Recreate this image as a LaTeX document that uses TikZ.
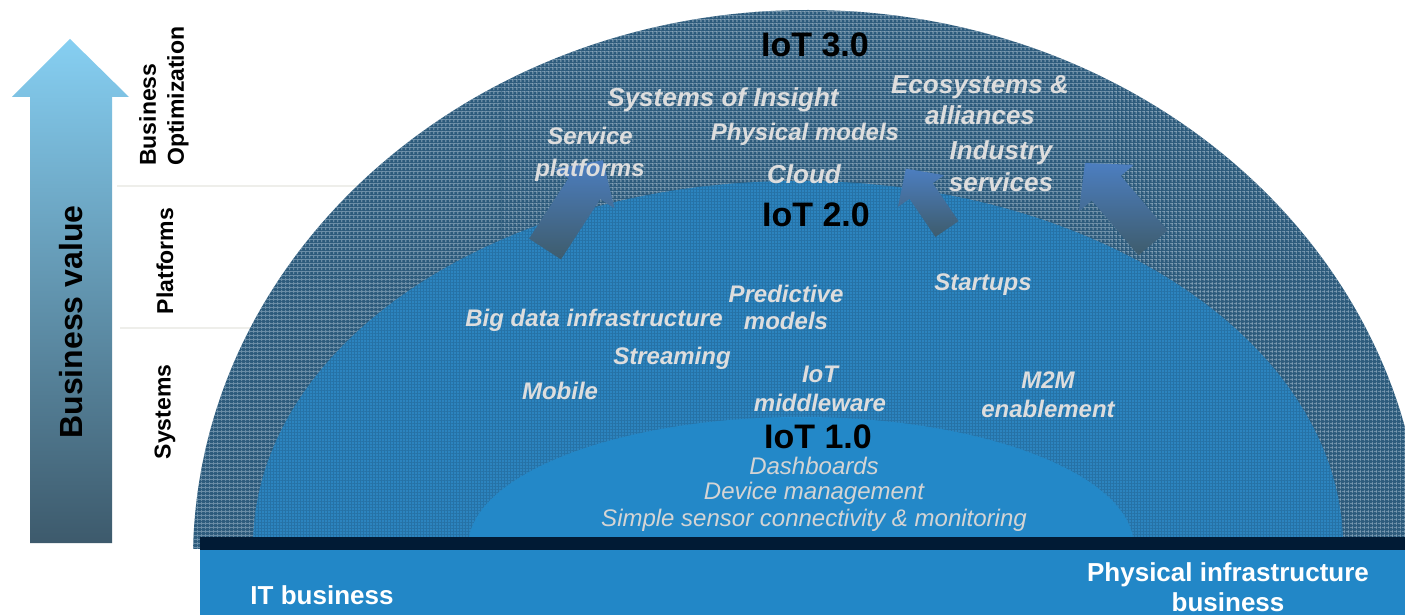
\documentclass[tikz,border=0pt]{standalone}
\usepackage{fontspec}
\setmainfont{Liberation Sans}
\usetikzlibrary{patterns.meta}
\definecolor{outerc}{HTML}{2D5B7C}
\definecolor{outerl}{HTML}{88A6BC}
\definecolor{midc}{HTML}{2C84BF}
\definecolor{midl}{HTML}{2672A6}
\definecolor{innerc}{HTML}{2388C8}
\definecolor{barc}{HTML}{2287C7}
\definecolor{stripc}{HTML}{011B35}
\definecolor{txtg}{HTML}{DDDDDD}
\definecolor{txtl}{HTML}{D4D4D4}
\definecolor{arrtop}{HTML}{86CFF2}
\definecolor{arrbot}{HTML}{3D5A6C}
\definecolor{batop}{HTML}{4C7EC0}
\definecolor{babot}{HTML}{3E5C6C}
\definecolor{sepc}{HTML}{EEEEEA}
\begin{document}
\begin{tikzpicture}[x=1pt,y=-1pt,
  item/.style={font=\fontsize{24}{31}\selectfont\bfseries\itshape, text=txtg, align=center, inner sep=0pt},
  big/.style={font=\fontsize{26}{#1}\selectfont\bfseries\itshape},
  ls/.style={font=\fontsize{24}{#1}\selectfont\bfseries\itshape},
  basetxt/.style={font=\fontsize{24}{28}\selectfont\itshape, text=txtl, inner sep=0pt},
  iot/.style={font=\fontsize{34}{38}\selectfont\bfseries, text=black, inner sep=0pt},
  side/.style={font=\fontsize{23}{28}\selectfont\bfseries, text=black, rotate=90, inner sep=0pt},
  bartxt/.style={font=\fontsize{26}{30}\selectfont\bfseries, text=white, align=center, inner sep=0pt},
  blockarrow/.style={top color=batop, bottom color=babot},
  gridh/.style={pattern={Lines[angle=0,distance=4pt,line width=0.7pt]}, pattern color=#1},
  gridv/.style={pattern={Lines[angle=90,distance=4pt,line width=0.7pt]}, pattern color=#1},
  fineh/.style={pattern={Lines[angle=0,distance=3pt,line width=0.4pt]}, pattern color=#1},
  finev/.style={pattern={Lines[angle=90,distance=3pt,line width=0.4pt]}, pattern color=#1}
]
\useasboundingbox (0,0) rectangle (1405,615);
\clip (0,0) rectangle (1405,615);
\fill[white] (0,0) rectangle (1405,615);
% separators
\draw[sepc, line width=2pt] (117,186) -- (400,186);
\draw[sepc, line width=2pt] (120,328) -- (300,328);
% domes
\begin{scope}
\clip (0,0) rectangle (1405,548);
\fill[outerc] (808,560) ellipse [x radius=615, y radius=550];
\fill[gridh=outerl] (808,560) ellipse [x radius=615, y radius=550];
\fill[gridv=outerl] (808,560) ellipse [x radius=615, y radius=550];
\fill[midc] (798,547) ellipse [x radius=545, y radius=366];
\fill[fineh=midl] (798,547) ellipse [x radius=545, y radius=366];
\fill[finev=midl] (798,547) ellipse [x radius=545, y radius=366];
\fill[innerc] (801,547) ellipse [x radius=333, y radius=130];
\end{scope}
% bottom bar
\fill[stripc] (200,537) rectangle (1405,550);
\fill[barc] (200,550) rectangle (1405,615);
% business value arrow
\shade[top color=arrtop, bottom color=arrbot] (30,543) -- (30,97) -- (12,97) -- (70,39) -- (129,97) -- (112,97) -- (112,543) -- cycle;
% block arrows
\begin{scope}[shift={(545,249)}, rotate=56.9]
\shade[blockarrow] (0,19) -- (72,19) -- (72,36) -- (106,0) -- (72,-36) -- (72,-19) -- (0,-19) -- cycle;
\end{scope}
\begin{scope}[shift={(947,229)}, rotate=124.3]
\shade[blockarrow] (0,14) -- (46,14) -- (46,28) -- (73,0) -- (46,-28) -- (46,-14) -- (0,-14) -- cycle;
\end{scope}
\begin{scope}[shift={(1153,243)}, rotate=130.4]
\shade[blockarrow] (0,19) -- (72,19) -- (72,36) -- (105,0) -- (72,-36) -- (72,-19) -- (0,-19) -- cycle;
\end{scope}
% left labels
\node[font=\fontsize{32}{36}\selectfont\bfseries, rotate=90, inner sep=0pt] (bv) at (71,322) {Business value};
\node[side, anchor=west, align=left] (bo) at (164,166) {Business\\Optimization};
\node[side] (plat) at (165,261) {Platforms};
\node[side] (sys) at (165,412) {Systems};
% IoT 3.0
\node[iot] (iot3) at (815,45) {IoT 3.0};
\node[item, big=30] (soi) at (723,100) {Systems of Insight};
\node[item] (phys) at (805,134) {Physical models};
\node[item, ls=32] (serv) at (590,154) {Service\\platforms};
\node[item, big=30] (cloud) at (804,174) {Cloud};
\node[item, big=31] (eco) at (980,100) {Ecosystems \&\\alliances};
\node[item, big=32] (ind) at (1001,166) {Industry\\services};
% IoT 2.0
\node[iot] (iot2) at (816,215) {IoT 2.0};
\node[item, ls=27] (pred) at (786,307) {Predictive\\models};
\node[item] (bigdata) at (594,320) {Big data infrastructure};
\node[item] (start) at (983,285) {Startups};
\node[item] (stream) at (672,358) {Streaming};
\node[item] (mob) at (560,391) {Mobile};
\node[item, ls=29] (mid) at (820,389) {IoT\\middleware};
\node[item, ls=29] (m2m) at (1048,395) {M2M\\enablement};
% IoT 1.0
\node[iot] (iot1) at (818,437) {IoT 1.0};
\node[basetxt] (dash) at (814,466) {Dashboards};
\node[basetxt] (dev) at (814,493) {Device management};
\node[basetxt] (sens) at (814,520) {Simple sensor connectivity \& monitoring};
% bottom texts
\node[bartxt] (itb) at (322,595) {IT business};
\node[bartxt] (pib) at (1228,587) {Physical infrastructure\\business};
\end{tikzpicture}
\end{document}
